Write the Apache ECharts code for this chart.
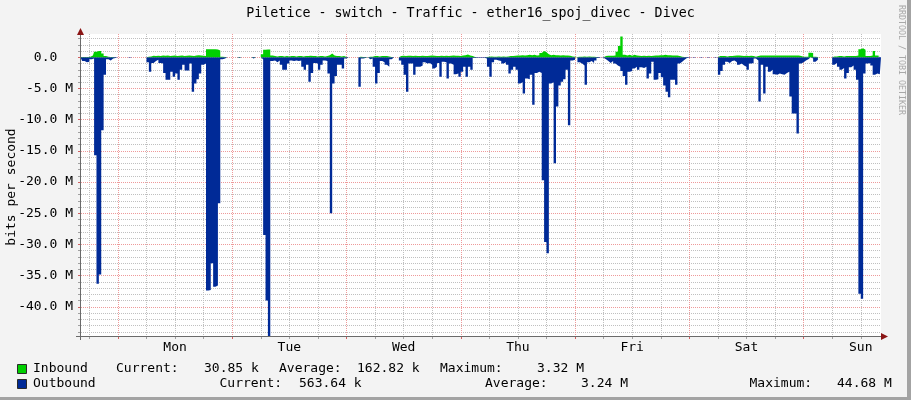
<!DOCTYPE html>
<html><head><meta charset="utf-8">
<script src="https://cdn.jsdelivr.net/npm/echarts@6/dist/echarts.min.js"></script>
<style>html,body{margin:0;padding:0;background:#F3F3F3}#c{width:911px;height:400px}</style>
</head><body><div id="c"></div>
<script>
// ---- data (Mbit/s), one sample every 30 minutes, first sample Sun 16:15 ----
const startHour = -7.75;       // hours relative to Mon 00:00
const stepHours = 0.5;
const endHour = 160.25;
const dayNames = ['Mon', 'Tue', 'Wed', 'Thu', 'Fri', 'Sat', 'Sun'];
const dayStartHours = [0, 24, 48, 72, 96, 120, 144];
const dayLabelHours = [12, 36, 60, 84, 108, 132, 156];
const minorHours = [-6, 6, 12, 18, 30, 36, 42, 54, 60, 66, 78, 84, 90, 102, 108, 114, 126, 132, 138, 150, 156];
const yMajor = [0, -5, -10, -15, -20, -25, -30, -35, -40];
const yMinor = [3, 2, 1, -1, -2, -3, -4, -6, -7, -8, -9, -11, -12, -13, -14, -16, -17, -18, -19,
  -21, -22, -23, -24, -26, -27, -28, -29, -31, -32, -33, -34, -36, -37, -38, -39, -41, -42, -43, -44];

const inbound = [
  0.05,0.05,0.05,0.05,0.1,0.3,0.9,1.0,1.0,0.6,
  0.2,0.1,0.05,0.05,0,0,0,0,0,0,
  0,0,0,0,0,0,0,0,0.1,0.15,
  0.25,0.2,0.25,0.2,0.3,0.25,0.3,0.2,0.25,0.3,
  0.2,0.25,0.3,0.2,0.25,0.3,0.25,0.2,0.3,0.35,
  0.3,0.25,0.2,1.3,1.3,1.3,1.28,1.25,1.1,0.1,
  0.05,0,0,0,0,0,0.05,0,0,0,
  0,0,0.05,0,0,0,0.5,1.2,1.25,1.25,
  0.3,0.2,0.15,0.2,0.2,0.15,0.2,0.15,0.2,0.2,
  0.15,0.2,0.2,0.15,0.2,0.2,0.25,0.2,0.2,0.15,
  0.2,0.2,0.15,0.2,0.35,0.6,0.3,0.2,0.2,0.15,
  0.2,0.05,0,0,0,0,0,0.1,0.05,0.05,
  0,0.1,0.1,0.2,0.2,0.15,0.2,0.2,0.2,0.15,
  0.05,0,0,0,0.2,0.25,0.2,0.25,0.25,0.2,
  0.25,0.2,0.2,0.25,0.2,0.2,0.25,0.3,0.25,0.2,
  0.2,0.25,0.2,0.25,0.2,0.25,0.3,0.25,0.25,0.2,
  0.3,0.35,0.45,0.3,0.2,0.05,0,0,0,0,
  0.05,0.1,0.15,0.1,0.1,0.15,0.1,0.15,0.1,0.15,
  0.2,0.2,0.25,0.3,0.3,0.35,0.3,0.35,0.4,0.35,
  0.4,0.3,0.35,0.7,1.0,0.8,0.5,0.35,0.4,0.35,
  0.35,0.3,0.35,0.3,0.3,0.25,0.15,0.1,0.05,0.1,
  0.1,0.15,0.1,0.15,0.1,0.1,0.05,0,0,0,
  0.2,0.25,0.25,0.25,0.3,0.9,1.8,3.32,0.4,0.3,
  0.4,0.25,0.4,0.3,0.25,0.2,0.25,0.2,0.25,0.2,
  0.25,0.3,0.3,0.35,0.35,0.4,0.35,0.35,0.3,0.3,
  0.3,0.2,0.1,0.05,0,0,0,0,0,0,
  0,0,0,0,0,0,0,0,0.2,0.2,
  0.2,0.15,0.2,0.2,0.25,0.3,0.3,0.25,0.2,0.25,
  0.2,0.25,0.2,0.1,0.2,0.3,0.3,0.3,0.3,0.3,
  0.3,0.3,0.3,0.3,0.3,0.3,0.3,0.3,0.3,0.3,
  0.3,0.3,0.2,0.1,0.1,0.1,0.75,0.7,0.1,0.05,
  0,0,0,0,0,0,0.15,0.15,0.2,0.2,
  0.15,0.2,0.2,0.2,0.2,0.2,0.3,1.3,1.45,1.2,
  0.2,0.2,0.3,1.0,0.3,0.2,0.2
];

const outbound = [
  -0.2,-0.6,-0.8,-0.7,-0.3,-0.2,-15.7,-36.3,-34.8,-11.7,
  -2.8,-0.3,-0.5,-0.2,-0.1,0,0,0,0,0,
  -0.05,0,0,0,0,0,0,0,-0.8,-2.3,
  -0.9,-0.6,-0.4,-0.9,-1.0,-2.5,-3.6,-3.6,-2.3,-3.1,
  -2.6,-3.6,-2.0,-1.2,-2.1,-2.1,-1.0,-5.5,-4.2,-3.5,
  -2.6,-1.2,-1.0,-37.4,-37.3,-33.0,-36.8,-36.6,-23.4,-0.3,
  -0.2,0,0,0,0,0,-0.1,0,0,0,
  0,0,-0.2,0,0,0,-0.3,-28.5,-39.0,-44.68,
  -0.6,-0.5,-0.8,-0.5,-1.2,-2.0,-2.0,-1.0,-0.5,-0.6,
  -0.5,-0.6,-0.5,-1.5,-2.0,-1.2,-3.9,-2.5,-0.9,-1.0,
  -2.0,-1.2,-0.5,-0.6,-2.6,-25.0,-4.2,-3.0,-1.2,-1.2,
  -1.8,-0.2,0,0,0,0,0,-4.7,-0.2,-0.1,
  0,-0.3,-0.2,-1.5,-4.2,-2.5,-0.6,-0.8,-1.2,-1.5,
  -0.3,0,0,0,-0.5,-1.2,-2.8,-5.5,-1.0,-1.0,
  -2.8,-1.5,-1.5,-1.3,-0.8,-1.0,-0.9,-1.2,-1.8,-1.5,
  -0.9,-3.1,-0.7,-0.8,-3.4,-1.0,-1.2,-2.7,-2.6,-3.1,
  -2.3,-1.5,-3.1,-1.5,-2.0,-0.1,-0.05,-0.05,-0.05,-0.05,
  -0.2,-1.5,-3.1,-0.8,-0.4,-0.5,-0.6,-1.0,-0.8,-1.2,
  -2.6,-2.0,-1.5,-2.0,-4.2,-4.0,-5.8,-3.4,-3.5,-2.8,
  -7.6,-2.5,-2.3,-2.5,-19.7,-29.6,-31.4,-4.2,-4.0,-17.0,
  -7.9,-4.5,-3.9,-3.5,-2.0,-10.9,-0.5,-0.4,0,-0.8,
  -1.0,-1.3,-4.4,-0.8,-0.6,-0.9,-0.5,-0.1,0,-0.05,
  -0.3,-0.6,-0.9,-0.6,-1.0,-1.3,-1.5,-2.2,-3.0,-4.4,
  -2.3,-2.2,-1.8,-1.5,-2.0,-1.6,-1.7,-1.5,-3.4,-2.6,
  -0.7,-3.6,-3.5,-2.5,-3.2,-4.5,-5.5,-6.4,-3.6,-3.6,
  -4.4,-1.0,-0.7,-0.4,-0.1,-0.05,0,-0.05,0,0,
  -0.05,0,0,-0.05,0,0,-0.05,0,-2.8,-2.2,
  -1.2,-0.7,-0.9,-0.6,-0.5,-0.8,-1.2,-1.0,-1.3,-1.5,
  -2.0,-1.0,-0.9,-0.2,-0.5,-7.1,-1.2,-5.8,-1.5,-2.3,
  -2.0,-2.7,-2.8,-2.6,-2.7,-2.8,-2.5,-2.3,-6.3,-9.0,
  -9.0,-12.2,-1.0,-0.8,-0.5,-0.3,0,-0.2,-0.7,-0.4,
  0,0,0,0,0,0,-1.2,-0.9,-1.5,-2.0,
  -1.7,-3.4,-2.5,-1.6,-1.3,-2.0,-3.6,-37.9,-38.7,-2.6,
  -1.0,-0.9,-1.3,-2.8,-2.6,-2.7,-2.7
];

const yMin = -44.68, yMax = 3.74;
const titleText = 'Piletice - switch - Traffic - ether16_spoj_divec - Divec';
const yAxisName = 'bits per second';
const watermark = 'RRDTOOL / TOBI OETIKER';
const legendInbound = ['Inbound', 'Current:', '30.85 k', 'Average:', '162.82 k', 'Maximum:', '3.32 M'];
const legendOutbound = ['Outbound', 'Current:', '563.64 k', 'Average:', '3.24 M', 'Maximum:', '44.68 M'];

// ---- chart ----
const FONT = 'DejaVu Sans Mono';
const IN_COLOR = '#00CF00', OUT_COLOR = '#002A97';
const GRID_MINOR = '#C0C0C0', GRID_MAJOR = '#EE9A9A';
const toPairs = arr => arr.map((v, i) => [startHour + i * stepHours, v]);

const chart = echarts.init(document.getElementById('c'), null, { renderer: 'canvas', width: 911, height: 400 });

const gl = 81, gr = 881, gt = 34, gb = 336;

function legendRow(items, xs, y, color) {
  const els = [{
    type: 'rect', shape: { x: 17.5, y: y - 4.5, width: 9, height: 9 },
    style: { fill: color, stroke: '#2a2a2a', lineWidth: 1 }
  }];
  items.forEach((t, k) => els.push({
    type: 'text', x: xs[k], y: y,
    style: { text: t, fontFamily: FONT, fontSize: 13, fill: '#000', align: 'left', verticalAlign: 'middle' }
  }));
  return els;
}

const option = {
  animation: false,
  backgroundColor: '#F3F3F3',
  grid: { left: gl, right: 911 - gr, top: gt, bottom: 400 - gb, show: true, backgroundColor: '#FFFFFF', borderWidth: 0 },
  xAxis: [
    {
      type: 'value', min: startHour, max: endHour, position: 'bottom', z: 0,
      axisLine: { show: false, onZero: false },
      axisTick: { show: true, customValues: minorHours, length: 3, lineStyle: { color: '#A0A0A0' } },
      axisLabel: { show: false },
      splitLine: { show: true, lineStyle: { color: GRID_MINOR, type: [1, 1], width: 1 } }
    },
    {
      type: 'value', min: startHour, max: endHour, position: 'bottom', z: 1,
      axisLine: { show: false, onZero: false },
      axisTick: { show: true, customValues: dayStartHours, length: 3, lineStyle: { color: '#D06060' } },
      axisLabel: {
        show: true, customValues: dayLabelHours, margin: 5,
        formatter: v => dayNames[Math.round((v - dayLabelHours[0]) / 24)],
        fontFamily: FONT, fontSize: 13, color: '#000'
      },
      splitLine: { show: true, lineStyle: { color: GRID_MAJOR, type: [1, 1], width: 1 } }
    }
  ],
  yAxis: [
    {
      type: 'value', min: yMin, max: yMax, position: 'left', z: 1,
      axisLine: { show: false, onZero: false },
      axisTick: { show: true, customValues: yMajor, length: 3, lineStyle: { color: '#D06060' } },
      axisLabel: {
        show: true, customValues: yMajor, margin: 8,
        formatter: v => (v === 0 ? '0.0  ' : v.toFixed(1) + ' M'),
        fontFamily: FONT, fontSize: 13, color: '#000'
      },
      splitLine: { show: true, lineStyle: { color: GRID_MAJOR, type: [1, 1], width: 1 } }
    },
    {
      type: 'value', min: yMin, max: yMax, position: 'left', z: 0,
      axisLine: { show: false, onZero: false },
      axisTick: { show: true, customValues: yMinor, length: 3, lineStyle: { color: '#A0A0A0' } },
      axisLabel: { show: false },
      splitLine: { show: true, lineStyle: { color: GRID_MINOR, type: [1, 1], width: 1 } }
    }
  ],
  series: [
    {
      name: 'Outbound', type: 'line', xAxisIndex: 0, yAxisIndex: 0, data: toPairs(outbound),
      step: 'middle', symbol: 'none', silent: true, z: 3,
      lineStyle: { width: 0, color: OUT_COLOR }, itemStyle: { color: OUT_COLOR },
      areaStyle: { color: OUT_COLOR, opacity: 1 }
    },
    {
      name: 'Inbound', type: 'line', xAxisIndex: 0, yAxisIndex: 0, data: toPairs(inbound),
      step: 'middle', symbol: 'none', silent: true, z: 3,
      lineStyle: { width: 0, color: IN_COLOR }, itemStyle: { color: IN_COLOR },
      areaStyle: { color: IN_COLOR, opacity: 1 }
    }
  ],
  graphic: [
    { type: 'text', x: 470.5, y: 14, style: { text: titleText, fontFamily: FONT, fontSize: 13.3, fill: '#000', align: 'center', verticalAlign: 'middle' } },
    { type: 'text', x: 12, y: 187, rotation: Math.PI / 2, style: { text: yAxisName, fontFamily: FONT, fontSize: 13, fill: '#000', align: 'center', verticalAlign: 'middle' } },
    { type: 'text', x: 901, y: 60, rotation: -Math.PI / 2, style: { text: watermark, fontFamily: FONT, fontSize: 8.3, fill: '#A8A8A8', align: 'center', verticalAlign: 'middle' } },
    // axis lines and arrows
    { type: 'line', z: 10, shape: { x1: 80.5, y1: 31, x2: 80.5, y2: 340 }, style: { stroke: '#6A6A6A', lineWidth: 1 } },
    { type: 'line', z: 10, shape: { x1: 76, y1: 336.5, x2: 884, y2: 336.5 }, style: { stroke: '#6A6A6A', lineWidth: 1 } },
    { type: 'polygon', z: 11, shape: { points: [[80.5, 28], [77, 35], [84, 35]] }, style: { fill: '#8B1515' } },
    { type: 'polygon', z: 11, shape: { points: [[888, 336.5], [881, 333], [881, 340]] }, style: { fill: '#8B1515' } },
    // frame
    { type: 'rect', shape: { x: 907, y: 0, width: 4, height: 400 }, style: { fill: '#A3A3A3' } },
    { type: 'rect', shape: { x: 0, y: 397, width: 911, height: 3 }, style: { fill: '#A3A3A3' } },
    ...legendRow(legendInbound, [33, 116, 204, 279, 357, 440, 537], 369, IN_COLOR),
    ...legendRow(legendOutbound, [33, 219.5, 299, 485, 581, 749.5, 837], 384, OUT_COLOR)
  ]
};
chart.setOption(option);
</script>
</body></html>
